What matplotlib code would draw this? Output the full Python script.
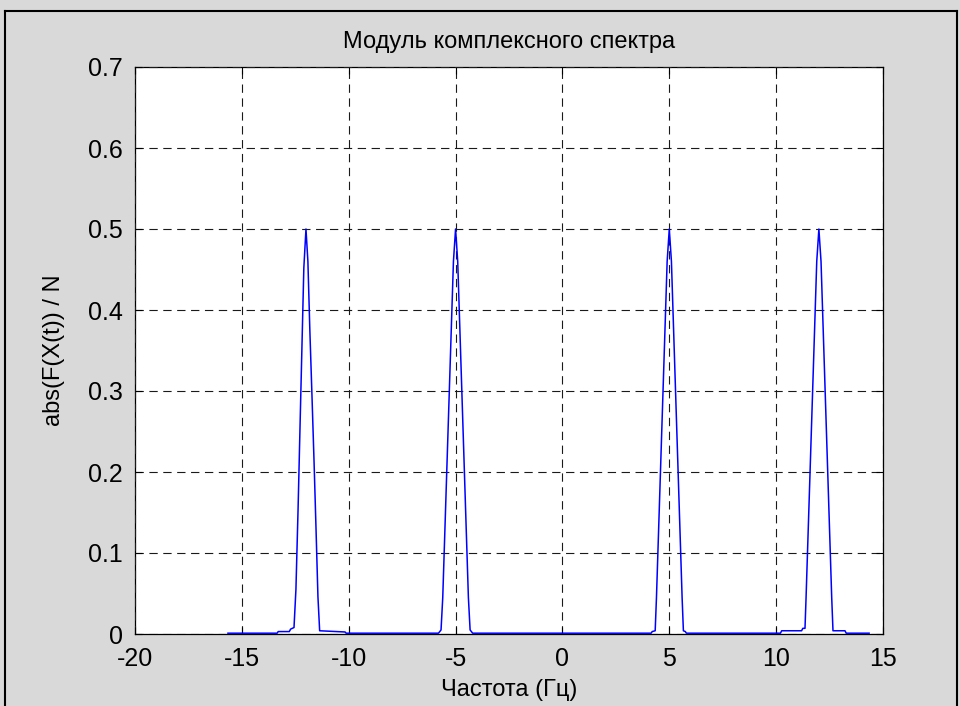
import matplotlib
matplotlib.use("Agg")
import matplotlib.pyplot as plt
from matplotlib.lines import Line2D
import numpy as np

# ---------------- data ----------------
title_text = "Модуль комплексного спектра"
xlabel_text = "Частота (Гц)"
ylabel_text = "abs(F(X(t)) / N"

x_ticks = [-20, -15, -10, -5, 0, 5, 10, 15]
y_ticks = [0, 0.1, 0.2, 0.3, 0.4, 0.5, 0.6, 0.7]
y_tick_labels = ["0", "0.1", "0.2", "0.3", "0.4", "0.5", "0.6", "0.7"]

freq_min = -15.65
freq_max = 14.35
baseline_level = 0.001

# peak at -12 Hz (slightly asymmetric)
peak_m12_center = -12.0
peak_m12_offsets = [-1.35, -1.30, -0.78, -0.72, -0.56, -0.47, -0.37, -0.28, -0.19, -0.10,
                    0.0, 0.09, 0.18, 0.28, 0.38, 0.47, 0.56, 0.64, 1.83, 1.88]
peak_m12_values = [0.001, 0.003, 0.003, 0.006, 0.008, 0.055, 0.154, 0.254, 0.353, 0.452,
                   0.5, 0.46, 0.376, 0.295, 0.211, 0.13, 0.046, 0.004, 0.0025, 0.001]

# peak at -5 Hz
peak_m5_center = -5.0
peak_m5_offsets = [-0.80, -0.68, -0.60, -0.50, -0.40, -0.30, -0.20, -0.10, 0.0,
                   0.10, 0.20, 0.30, 0.40, 0.50, 0.60, 0.68, 0.80]
peak_m5_values = [0.001, 0.005, 0.045, 0.128, 0.211, 0.294, 0.377, 0.46, 0.5,
                  0.46, 0.377, 0.294, 0.211, 0.128, 0.045, 0.005, 0.001]

# peak at +5 Hz
peak_p5_center = 5.0
peak_p5_offsets = [-0.85, -0.80, -0.66, -0.60, -0.50, -0.40, -0.30, -0.20, -0.10, 0.0,
                   0.10, 0.20, 0.30, 0.40, 0.50, 0.60, 0.66, 0.75, 0.80]
peak_p5_values = [0.001, 0.003, 0.004, 0.045, 0.128, 0.211, 0.294, 0.377, 0.46, 0.5,
                  0.46, 0.377, 0.294, 0.211, 0.128, 0.045, 0.004, 0.003, 0.001]

# peak at +12 Hz
peak_p12_center = 12.0
peak_p12_offsets = [-1.80, -1.74, -0.81, -0.75, -0.65, -0.60, -0.50, -0.40, -0.30, -0.20, -0.10,
                    0.0, 0.10, 0.20, 0.30, 0.40, 0.50, 0.60, 0.66, 1.22, 1.28]
peak_p12_values = [0.001, 0.004, 0.004, 0.007, 0.007, 0.045, 0.128, 0.211, 0.294, 0.377, 0.46,
                   0.5, 0.46, 0.377, 0.294, 0.211, 0.128, 0.045, 0.004, 0.004, 0.001]

# ---------------- assemble the spectrum ----------------
peaks = [
    (peak_m12_center, peak_m12_offsets, peak_m12_values),
    (peak_m5_center, peak_m5_offsets, peak_m5_values),
    (peak_p5_center, peak_p5_offsets, peak_p5_values),
    (peak_p12_center, peak_p12_offsets, peak_p12_values),
]
freq = [freq_min]
mag = [baseline_level]
for c, offs, vals in peaks:
    freq.extend([c + o for o in offs])
    mag.extend(vals)
freq.append(freq_max)
mag.append(baseline_level)
freq = np.array(freq)
mag = np.array(mag)

# ---------------- figure ----------------
plt.rcParams['font.family'] = ['Liberation Sans', 'DejaVu Sans']
bg = '#d9d9d9'
fig = plt.figure(figsize=(9.6, 7.06), dpi=100, facecolor=bg)
W, H = 960.0, 706.0
ax_left, ax_right, ax_top, ax_bottom = 135, 883, 67, 634
ax = fig.add_axes([ax_left / W, 1 - ax_bottom / H, (ax_right - ax_left) / W, (ax_bottom - ax_top) / H])
ax.set_facecolor('white')

ax.plot(freq, mag, color='#0000ff', lw=1.1, zorder=3)

ax.set_xlim(-20, 15)
ax.set_ylim(0, 0.7)
ax.set_xticks(x_ticks)
ax.set_xticklabels([str(t) for t in x_ticks])
ax.set_yticks(y_ticks)
ax.set_yticklabels(y_tick_labels)

fs_tick = 18
fs_text = 17
ax.tick_params(direction='in', length=5, width=0.8, top=True, right=True,
               labelsize=fs_tick, colors='black')
ax.tick_params(axis='x', pad=9)
ax.tick_params(axis='y', pad=9)
for s in ax.spines.values():
    s.set_linewidth(0.9)
    s.set_color('black')

ax.grid(True, color='#1a1a1a', linestyle=(0, (7.5, 5)), linewidth=0.8)
ax.set_axisbelow(False)
for gl in ax.get_xgridlines() + ax.get_ygridlines():
    gl.set_zorder(2)

ax.set_title(title_text, fontsize=fs_text, pad=14)
ax.set_xlabel(xlabel_text, fontsize=fs_text, labelpad=6)
ax.set_ylabel(ylabel_text, fontsize=fs_text, labelpad=16)

# window border (top, left, right)
lw_b = 1.5
fig.add_artist(Line2D([4.5 / W, 4.5 / W], [0, 1 - 10.5 / H], transform=fig.transFigure, color='black', lw=lw_b))
fig.add_artist(Line2D([4.5 / W, 957 / W], [1 - 10.5 / H, 1 - 10.5 / H], transform=fig.transFigure, color='black', lw=lw_b))
fig.add_artist(Line2D([957 / W, 957 / W], [0, 1 - 10.5 / H], transform=fig.transFigure, color='black', lw=lw_b))

fig.savefig('out.png', dpi=100, facecolor=bg)
